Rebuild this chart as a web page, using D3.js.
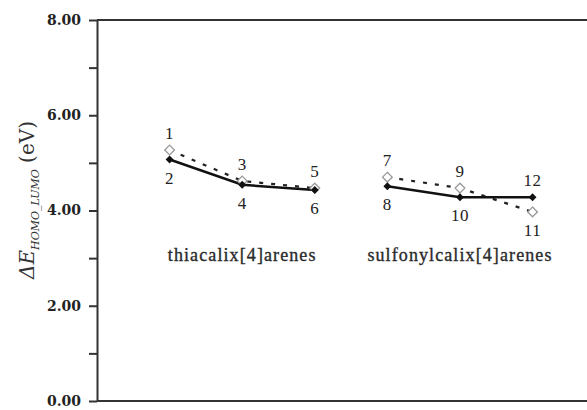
<!DOCTYPE html>
<html>
<head>
<meta charset="utf-8">
<script src="https://cdn.jsdelivr.net/npm/d3@7"></script>
<style>
  body { margin: 0; background: #fff; }
  svg { display: block; }
  .tick text { font-family: "DejaVu Serif", serif; font-weight: bold; font-size: 14px; fill: #222; }
  .num { font-family: "Liberation Serif", serif; font-size: 17px; letter-spacing: 0.5px; fill: #222; }
  .grp { font-family: "Liberation Serif", serif; font-size: 18px; letter-spacing: 1.1px; fill: #2a2a2a; stroke: #2a2a2a; stroke-width: 0.35px; }
</style>
</head>
<body>
<svg width="587" height="410"></svg>
<script>
// positions along the x axis (index), compounds 1..12
var openIdx = [1, 2, 3, 4, 5, 6];
var openVals = [5.27, 4.62, 4.47, 4.70, 4.47, 3.97];
var openLabels = ["1", "3", "5", "7", "9", "11"];
var openLabelSide = ["up", "up", "up", "up", "up", "down"];

var fillIdx = [1, 2, 3, 4, 5, 6];
var fillVals = [5.07, 4.54, 4.43, 4.51, 4.28, 4.28];
var fillLabels = ["2", "4", "6", "8", "10", "12"];
var fillLabelSide = ["down", "down", "down", "down", "down", "up"];

var groupNames = ["thiacalix[4]arenes", "sulfonylcalix[4]arenes"];
var groupCenters = [2, 5];

var yTicks = [0, 1, 2, 3, 4, 5, 6, 7, 8];

const svg = d3.select("svg");
var x = d3.scaleLinear().domain([0, 6.75]).range([97, 587]);
var y = d3.scaleLinear().domain([0, 8]).range([401, 20]);

// frame: top and bottom lines
svg.append("line").attr("x1", x(0)).attr("x2", 587).attr("y1", y(8)).attr("y2", y(8))
    .attr("stroke", "#333").attr("stroke-width", 2);
svg.append("line").attr("x1", x(0)).attr("x2", 587).attr("y1", y(0)).attr("y2", y(0))
    .attr("stroke", "#333").attr("stroke-width", 2);

var yaxis = d3.axisLeft(y)
    .tickValues(yTicks)
    .tickSize(8)
    .tickSizeOuter(0)
    .tickPadding(8)
    .tickFormat(function(d) { return d % 2 === 0 ? d3.format(".2f")(d) : ""; });
var ga = svg.append("g").attr("transform", "translate(" + x(0) + ",0)").call(yaxis);
ga.select(".domain").attr("stroke", "#333").attr("stroke-width", 2);
ga.selectAll(".tick line").attr("stroke", "#333").attr("stroke-width", 2);

// y axis title
var t = svg.append("text")
    .attr("transform", "translate(34,200) rotate(-90)")
    .attr("text-anchor", "middle")
    .attr("font-family", "DejaVu Serif, serif")
    .attr("font-size", "20px")
    .attr("fill", "#333");
t.append("tspan").attr("font-style", "italic").text("\u0394E");
t.append("tspan").attr("font-style", "italic").attr("font-size", "11px").attr("dy", 5).text("HOMO_LUMO");
t.append("tspan").attr("dy", -5).text(" (eV)");

function series(idx, vals) {
    return idx.map(function(d, i) { return {i: d, v: vals[i]}; });
}
var openData = series(openIdx, openVals);
var fillData = series(fillIdx, fillVals);

var line = d3.line().x(function(d) { return x(d.i); }).y(function(d) { return y(d.v); });

// lines, each group separately
[[0, 3], [3, 6]].forEach(function(r) {
    svg.append("path").attr("d", line(openData.slice(r[0], r[1])))
        .attr("fill", "none").attr("stroke", "#222").attr("stroke-width", 2.2)
        .attr("stroke-dasharray", "4,8");
    svg.append("path").attr("d", line(fillData.slice(r[0], r[1])))
        .attr("fill", "none").attr("stroke", "#111").attr("stroke-width", 2.5);
});

svg.selectAll("path.open").data(openData).enter().append("path")
    .attr("class", "open")
    .attr("d", d3.symbol().type(d3.symbolDiamond2).size(60)())
    .attr("transform", function(d) { return "translate(" + x(d.i) + "," + y(d.v) + ")"; })
    .attr("fill", "#fff").attr("stroke", "#999").attr("stroke-width", 1.3);
svg.selectAll("path.fill").data(fillData).enter().append("path")
    .attr("class", "fill")
    .attr("d", d3.symbol().type(d3.symbolDiamond2).size(40)())
    .attr("transform", function(d) { return "translate(" + x(d.i) + "," + y(d.v) + ")"; })
    .attr("fill", "#111");

function labels(data, labs, sides) {
    svg.selectAll(null).data(data).enter().append("text")
        .attr("class", "num")
        .attr("text-anchor", "middle")
        .attr("x", function(d) { return x(d.i); })
        .attr("y", function(d, i) { return y(d.v) + (sides[i] === "up" ? -11 : 24); })
        .text(function(d, i) { return labs[i]; });
}
labels(openData, openLabels, openLabelSide);
labels(fillData, fillLabels, fillLabelSide);

svg.selectAll("text.grp").data(groupNames).enter().append("text")
    .attr("class", "grp")
    .attr("text-anchor", "middle")
    .attr("x", function(d, i) { return x(groupCenters[i]); })
    .attr("y", y(2.95))
    .text(function(d) { return d; });
</script>
</body>
</html>
